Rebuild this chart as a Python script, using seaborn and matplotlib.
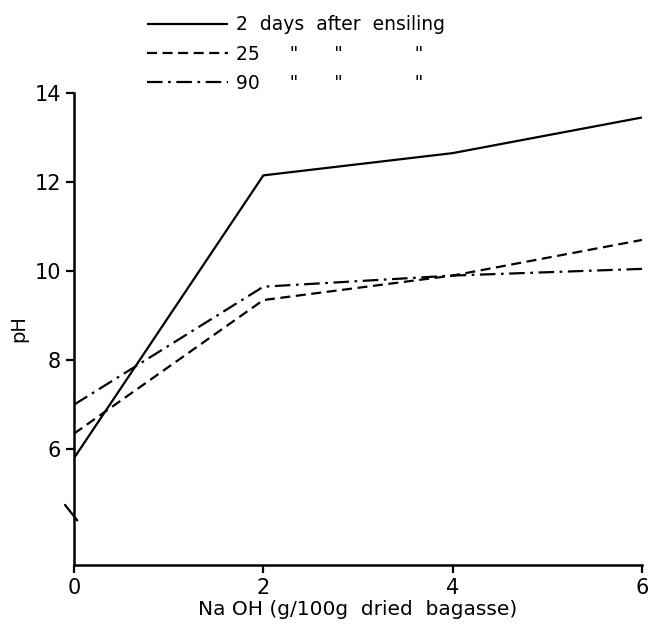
import numpy as np
import pandas as pd
import matplotlib
matplotlib.use("Agg")
import matplotlib.pyplot as plt
from matplotlib.lines import Line2D
import seaborn as sns

sns.set_style("ticks")
plt.rcParams['font.family'] = ['DejaVu Sans']
plt.rc('font', size=14.)
plt.rc('axes', linewidth=1.8, labelcolor='black', edgecolor='black')
plt.rc('xtick', color='black')
plt.rc('ytick', color='black')
plt.rc('text', color='black')

# data
naoh = [0, 2, 4, 6]
ph_2d = [5.8, 12.15, 12.65, 13.45]
ph_25d = [6.35, 9.35, 9.9, 10.7]
ph_90d = [7.0, 9.65, 9.9, 10.05]
series = ['2  days  after  ensiling',
          '25     "      "            "',
          '90     "      "            "']

df = pd.DataFrame({
    'x': naoh * 3,
    'pH': ph_2d + ph_25d + ph_90d,
    'days': np.repeat(series, len(naoh)),
})

line_dashes = [(1, 0), (4.5, 2.5), (7, 2.5, 1.2, 2.5)]

fig = plt.figure(figsize=[6.5, 6.33], dpi=100)
ax = fig.add_axes([74/650, 1-565/633, (642-74)/650, (565-93)/633])

sns.lineplot(data=df, x='x', y='pH', style='days', hue='days',
             palette=['black']*3, dashes=line_dashes,
             linewidth=1.6, legend=False, ax=ax)

ax.set_xlim(0, 6)
ax.set_ylim(3.4, 14)
ax.set_xticks([0, 2, 4, 6])
ax.set_yticks([6, 8, 10, 12, 14])
ax.tick_params(axis='both', direction='out', length=6, width=1.6,
               labelsize=15, colors='black')
sns.despine(ax=ax)

ax.set_xlabel('Na OH (g/100g  dried  bagasse)', fontsize=14.5, labelpad=1)
ax.set_ylabel('pH', fontsize=14, labelpad=4)

# axis break marker on the y axis
ax.plot([-0.095, 0.035], [4.75, 4.4], color='black', lw=1.6, clip_on=False)

# legend at the top
handles = [Line2D([], [], color='black', lw=1.6, dashes=d) for d in line_dashes]
fig.legend(handles, series, loc='upper left', bbox_to_anchor=(138/650, 1-6/633),
           frameon=False, handlelength=4.3, handletextpad=0.45,
           labelspacing=0.55, borderpad=0, fontsize=13.5, labelcolor='black')

fig.savefig('out.png', dpi=100)
